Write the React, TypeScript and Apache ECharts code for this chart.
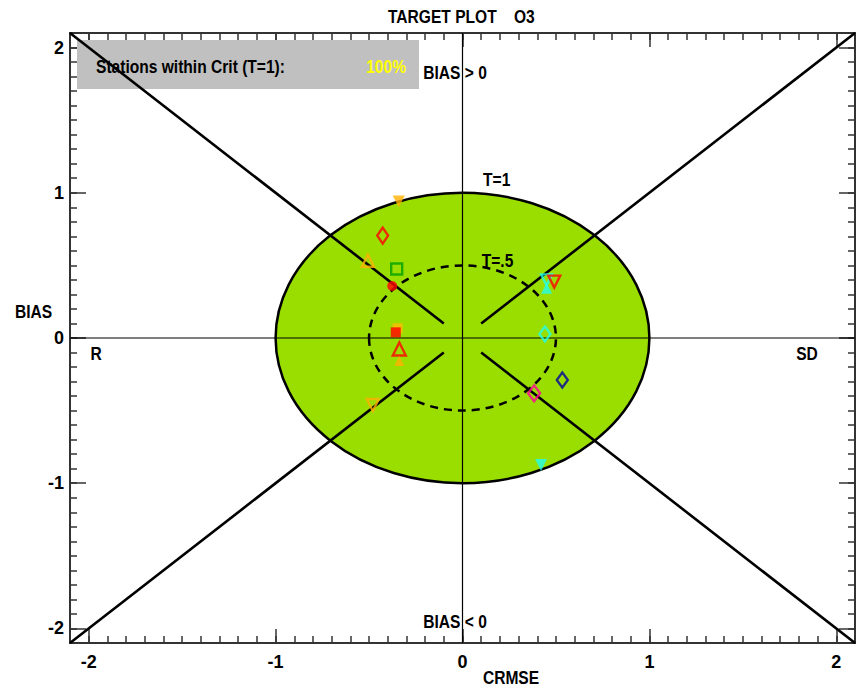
import React, { useEffect, useRef } from "react";
import * as echarts from "echarts";

const FONT = "'Liberation Sans', Arial, Helvetica, sans-serif";
const FS = 19;
// narrow face emulated by horizontal compression
const NARROW = 0.82;

// Axis extent and tick positions (CRMSE on x, BIAS on y)
const AXIS_MIN = -2.1;
const AXIS_MAX = 2.1;
const majorTicks = [-2, -1, 0, 1, 2];
const minorTicks: number[] = [];
for (let i = -21; i <= 21; i++) minorTicks.push(i / 10);

// Target criteria circles
const thresholdRadii = [1, 0.5];
const thresholdFill = ["#9ade00", "none"];
const thresholdDash: (number[] | null)[] = [null, [8, 6]];

// Quadrant diagonals: from the frame corners in towards the origin
const diagonalOuter = [[-2.1, 2.1], [2.1, 2.1], [-2.1, -2.1], [2.1, -2.1]];
const diagonalInner = [[-0.1, 0.1], [0.1, 0.1], [-0.1, -0.1], [0.1, -0.1]];

// Station markers
const stationCRMSE = [-0.341, -0.427, -0.506, -0.352, -0.376, -0.347, -0.357, -0.338, -0.338, -0.48, 0.45, 0.45, 0.491, 0.441, 0.534, 0.383, 0.42];
const stationBIAS = [0.939, 0.705, 0.532, 0.475, 0.358, 0.067, 0.039, -0.076, -0.158, -0.461, 0.40, 0.342, 0.388, 0.028, -0.289, -0.381, -0.875];
const stationSymbol = ["triangle", "diamond", "triangle", "rect", "circle", "rect", "rect", "triangle", "triangle", "triangle", "triangle", "triangle", "triangle", "diamond", "diamond", "diamond", "triangle"];
const stationRotate = [180, 0, 0, 0, 0, 0, 0, 0, 0, 180, 180, 0, 180, 0, 0, 0, 180];
const stationColor = ["#ffb000", "#ff0000", "#ffb000", "#00a000", "#ff0000", "#ffbb00", "#ff0000", "#ff0000", "#ffb000", "#ffb000", "#22ffee", "#22ffee", "#ff0000", "#22ffee", "#0000a0", "#ff0099", "#22ffee"];
const stationFilled = [true, false, false, false, true, true, true, false, true, false, false, true, false, false, false, false, true];
const stationSize: (number | number[])[] = [12, [11, 16], 12, 11, 10, 10, 10, 13, 10, 12, 11, 11, 12, [11, 15], [11, 15], [12, 16], 12];

// In-plot annotations
const annotationText = ["BIAS > 0", "BIAS < 0", "T=1", "T=.5", "R", "SD"];
const annotationX = [-0.21, -0.21, 0.11, 0.103, -1.99, 1.785];
const annotationY = [1.83, -1.95, 1.09, 0.537, -0.103, -0.103];

const statsLabel = "Stations within Crit (T=1):";
const statsValue = "100%";

function makeAxis(position: string, ticks: number[], len: number, withLabels: boolean, isY: boolean) {
  return {
    type: "value",
    min: AXIS_MIN,
    max: AXIS_MAX,
    position,
    splitLine: { show: false },
    axisLine: { show: true, onZero: false, lineStyle: { color: "#333", width: 2 } },
    axisTick: { show: true, inside: true, length: len, customValues: ticks, lineStyle: { color: "#333", width: 1.5 } },
    axisLabel: withLabels
      ? {
          show: true,
          customValues: majorTicks,
          margin: isY ? 6 : 10,
          fontFamily: FONT,
          fontSize: 18,
          fontWeight: "bold",
          color: "#000",
        }
      : { show: false },
  };
}

function narrowText(text: string, x: number, y: number, align: string, fill = "#000", z = 100) {
  return {
    type: "text",
    x,
    y,
    z,
    scaleX: NARROW,
    style: { text, fontFamily: FONT, fontSize: FS, fontWeight: "bold", fill, align, verticalAlign: "middle" },
  };
}

export default function App() {
  const ref = useRef<HTMLDivElement>(null);

  useEffect(() => {
    if (!ref.current) return;
    const chart = echarts.init(ref.current, undefined, { renderer: "svg" });

    const stationData = stationCRMSE.map((x, i) => ({
      value: [x, stationBIAS[i]],
      symbol: stationSymbol[i],
      symbolRotate: stationRotate[i],
      symbolSize: stationSize[i],
      itemStyle: stationFilled[i]
        ? { color: stationColor[i], borderWidth: 0 }
        : { color: "rgba(0,0,0,0)", borderColor: stationColor[i], borderWidth: 2.4 },
    }));

    const lineSeries = (data: number[][], width: number, name: string) => ({
      type: "line",
      name,
      data,
      symbol: "none",
      z: 3,
      silent: true,
      lineStyle: { color: "#000", width },
    });

    const option = {
      animation: false,
      backgroundColor: "#fff",
      grid: { left: 70, right: 2, top: 33, bottom: 45, containLabel: false },
      xAxis: [
        makeAxis("bottom", majorTicks, 14, true, false),
        makeAxis("bottom", minorTicks, 7, false, false),
        makeAxis("top", majorTicks, 14, false, false),
        makeAxis("top", minorTicks, 7, false, false),
      ],
      yAxis: [
        makeAxis("left", majorTicks, 16, true, true),
        makeAxis("left", minorTicks, 7, false, true),
        makeAxis("right", majorTicks, 16, false, true),
        makeAxis("right", minorTicks, 7, false, true),
      ],
      graphic: [
        { type: "rect", left: 77, top: 40, z: 1, shape: { width: 342, height: 49 }, style: { fill: "#c0c0c0" } },
        narrowText("TARGET PLOT    O3", 388, 16, "left"),
        narrowText(statsLabel, 96, 66, "left"),
        narrowText(statsValue, 406, 66, "right", "#ffff00"),
        narrowText("BIAS", 15, 311, "left"),
        narrowText("CRMSE", 511, 677, "center"),
      ],
      series: [
        {
          type: "custom",
          name: "criteria",
          z: 2,
          silent: true,
          data: thresholdRadii.map((r) => [r]),
          renderItem: (params: any, api: any) => {
            const i = params.dataIndex;
            const r = api.value(0);
            const c = api.coord([0, 0]);
            const s = api.size([r, r]);
            const rx = s[0];
            const ry = s[1];
            const d = `M${c[0] - rx},${c[1]} A${rx},${ry} 0 1 0 ${c[0] + rx},${c[1]} A${rx},${ry} 0 1 0 ${c[0] - rx},${c[1]} Z`;
            return {
              type: "path",
              shape: { pathData: d },
              style: {
                fill: thresholdFill[i],
                stroke: "#000",
                lineWidth: 2.5,
                lineDash: thresholdDash[i] || undefined,
              },
            };
          },
        },
        lineSeries([[AXIS_MIN, 0], [AXIS_MAX, 0]], 1.2, "zeroBias"),
        lineSeries([[0, AXIS_MIN], [0, AXIS_MAX]], 1.2, "zeroCrmse"),
        ...diagonalOuter.map((p, i) => lineSeries([p, diagonalInner[i]], 2.6, "diag" + i)),
        {
          type: "custom",
          name: "annotations",
          z: 6,
          silent: true,
          data: annotationX.map((x, i) => [x, annotationY[i]]),
          renderItem: (params: any, api: any) => {
            const p = api.coord([api.value(0), api.value(1)]);
            return {
              type: "text",
              x: p[0],
              y: p[1],
              scaleX: NARROW,
              style: {
                text: annotationText[params.dataIndex],
                fontFamily: FONT,
                fontSize: FS,
                fontWeight: "bold",
                fill: "#000",
                align: "left",
                verticalAlign: "middle",
              },
            };
          },
        },
        {
          type: "scatter",
          name: "stations",
          z: 5,
          data: stationData,
        },
      ],
    };

    chart.setOption(option as any);
    return () => chart.dispose();
  }, []);

  return (
    <div
      ref={ref}
      style={{ position: "absolute", left: 0, top: 0, width: 857, height: 688 }}
    />
  );
}
